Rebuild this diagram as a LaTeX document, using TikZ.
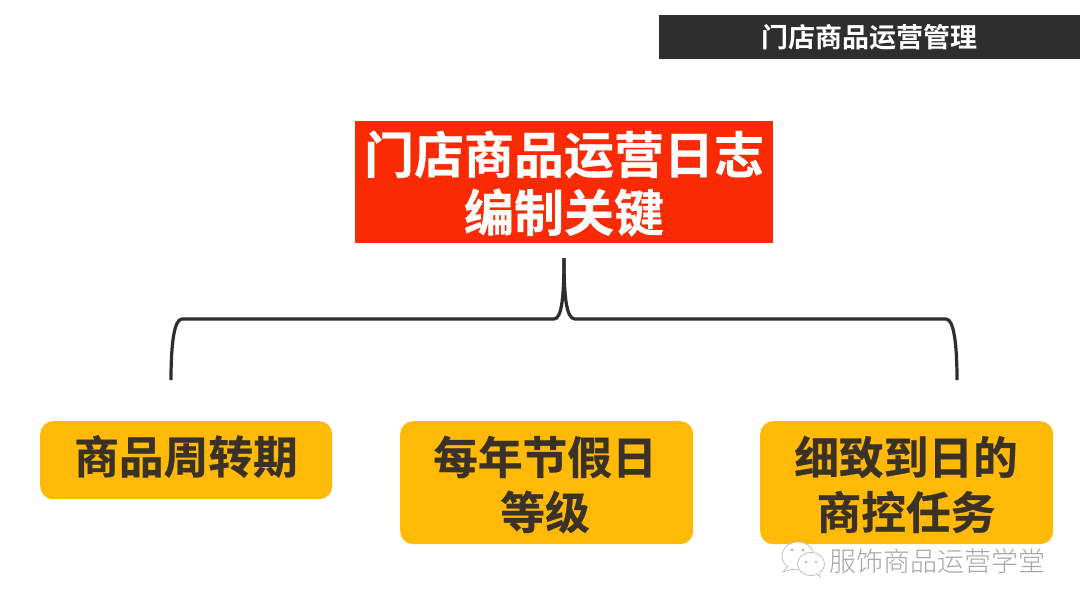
\documentclass[tikz,border=0pt]{standalone}
\usepackage{fontspec}
\newfontfamily\cjkb[FakeBold=0.6]{Noto Sans CJK SC Bold}
\newfontfamily\cjkh{Noto Sans CJK SC Bold}
\newfontfamily\cjkr{Noto Sans CJK SC Light}
\definecolor{dark}{HTML}{2E2E2E}
\definecolor{redbox}{HTML}{F92A04}
\definecolor{amber}{HTML}{FFBA08}
\definecolor{txt}{HTML}{3A3226}
\definecolor{wm}{HTML}{A6A6A6}
\tikzset{
  x=1pt,y=-1pt,
  header/.style={fill=dark,text=white,inner sep=0pt,font=\cjkh\fontsize{27}{32}\selectfont,align=center},
  titlebox/.style={fill=redbox,text=white,inner sep=0pt,font=\cjkb\fontsize{50}{58}\selectfont,align=center},
  card/.style={fill=amber,rounded corners=13pt,inner sep=0pt},
  cardtext/.style={text=txt,inner sep=0pt,font=\cjkb\fontsize{44.7}{55}\selectfont,align=center},
  bracket/.style={draw=dark,line width=3.2pt},
  bubble/.style={draw=wm!70,line width=0.8pt,fill=white}
}
\begin{document}
\begin{tikzpicture}
\useasboundingbox (0,0) rectangle (1080,608);
\fill[white] (0,0) rectangle (1080,608);
\node[header,minimum width=421pt,minimum height=44pt] (hd) at (869.5,37) {门店商品运营管理};
\node[titlebox,minimum width=418pt,minimum height=122pt] (ttl) at (564,182) {};
\node[inner sep=0pt,text=white,font=\cjkb\fontsize{50}{58}\selectfont,align=center] (ttltext) at (564,183.5) {门店商品运营日志\\编制关键};
\node[card,minimum width=292pt,minimum height=78pt,anchor=north west] (c1) at (40,421) {};
\node[card,minimum width=293pt,minimum height=123pt,anchor=north west] (c2) at (400,421) {};
\node[card,minimum width=293pt,minimum height=123pt,anchor=north west] (c3) at (760,421) {};
\node[cardtext] (t1) at (186,456.5) {商品周转期};
\node[cardtext] (t2) at (545,484.5) {每年节假日\\等级};
\node[cardtext] (t3) at (906,484.5) {细致到日的\\商控任务};
\coordinate (tip) at (564,258);
\coordinate (lend) at (171,380);
\coordinate (rend) at (957,380);
\draw[bracket] (tip) .. controls (564,295) and (562,319) .. (554,319)
  -- (182,319) .. controls (174,319) and (171,345) .. (lend);
\draw[bracket] (tip) .. controls (564,295) and (566,319) .. (575,319)
  -- (946,319) .. controls (954,319) and (957,345) .. (rend);
% WeChat mark
\draw[bubble] (798,556) ellipse (16 and 14);
\draw[bubble] (788,566) -- (783,572) -- (793,569);
\draw[bubble] (811,564) ellipse (13.5 and 11.5);
\draw[bubble] (817,574) -- (820,577) -- (820,571);
\fill[wm] (792,550) circle (1.4) (803,550) circle (1.4) (806,562) circle (1.1) (816,562) circle (1.1);
\node[text=wm,inner sep=0pt,font=\cjkr\fontsize{27}{32}\selectfont] (wmk) at (937.5,561) {服饰商品运营学堂};
\end{tikzpicture}
\end{document}
